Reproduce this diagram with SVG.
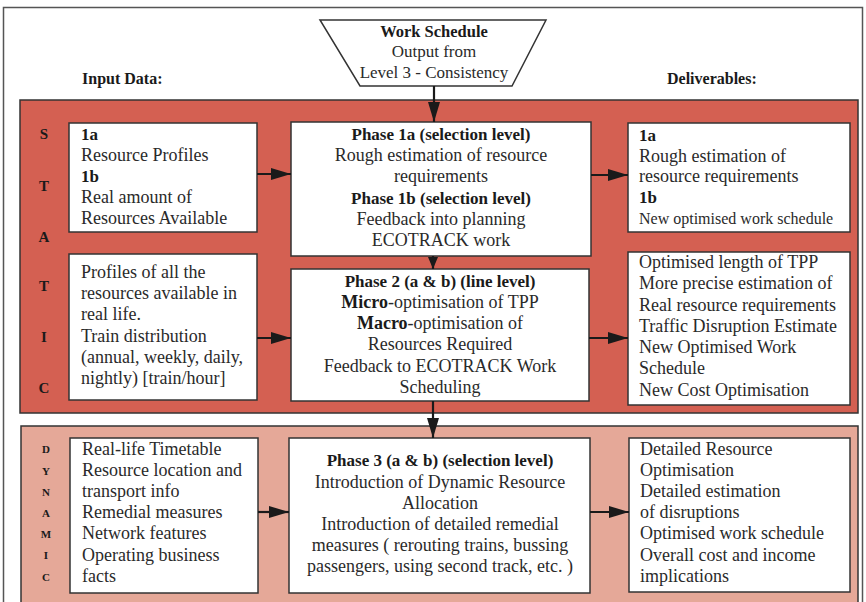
<svg xmlns="http://www.w3.org/2000/svg" width="866" height="602" viewBox="0 0 866 602">
<style>
text{font-family:"Liberation Serif","DejaVu Serif",serif;font-size:18px;fill:#2a2a2a}
.b{font-weight:bold;fill:#1a1a1a;font-size:17px}
tspan.b{font-size:18px}
.c{text-anchor:middle}
.h{font-size:17px}
.box{fill:#fff;stroke:#333;stroke-width:1.5}
.panel{stroke:#333;stroke-width:1.5}
.conn{stroke:#1a1a1a;stroke-width:2.2;fill:none}
.lt{font-weight:bold;font-size:15px;text-anchor:middle;fill:#1a1a1a}
.ld{font-weight:bold;font-size:11px;text-anchor:middle;fill:#1a1a1a}
</style>
<defs>
<marker id="ah" markerUnits="userSpaceOnUse" markerWidth="22" markerHeight="14" refX="20" refY="6" orient="auto"><path d="M0,0 L20,6 L0,12 Z" fill="#1a1a1a"/></marker>
<marker id="ahs" markerUnits="userSpaceOnUse" markerWidth="14" markerHeight="12" refX="12" refY="5" orient="auto"><path d="M0,0 L12,5 L0,10 Z" fill="#1a1a1a"/></marker>
</defs>
<rect x="0" y="0" width="866" height="602" fill="#fff"/>
<rect x="3.5" y="7.5" width="859" height="600" fill="none" stroke="#555" stroke-width="1.5"/>

<g id="header">
<polygon points="320,20 546,20 512,86 360,86" fill="#fff" stroke="#333" stroke-width="1.5"/>
<text x="434" y="37" class="b c" style="font-size:16.5px">Work Schedule</text>
<text x="434" y="57" class="c h">Output from</text>
<text x="434" y="78" class="c h">Level 3 - Consistency</text>
<text x="82" y="84" class="b" style="font-size:16px">Input Data:</text>
<text x="667" y="84" class="b" style="font-size:16px">Deliverables:</text>
</g>

<g id="static-panel">
<rect x="20" y="100" width="838" height="313" fill="#D46052" class="panel"/>
<text x="44" y="139" class="lt">S</text>
<text x="44" y="191" class="lt">T</text>
<text x="44" y="242" class="lt">A</text>
<text x="44" y="291" class="lt">T</text>
<text x="44" y="342" class="lt">I</text>
<text x="44" y="393" class="lt">C</text>
</g>

<g id="dynamic-panel">
<rect x="21" y="426" width="837" height="180" fill="#E5A898" class="panel"/>
<text x="46" y="453" class="ld">D</text>
<text x="46" y="475" class="ld">Y</text>
<text x="46" y="496" class="ld">N</text>
<text x="46" y="517" class="ld">A</text>
<text x="46" y="538" class="ld">M</text>
<text x="46" y="559" class="ld">I</text>
<text x="46" y="581" class="ld">C</text>
</g>

<g id="input-1">
<rect x="69" y="123" width="188" height="109" class="box"/>
<text x="81" y="140" class="b">1a</text>
<text x="81" y="161">Resource Profiles</text>
<text x="81" y="182" class="b">1b</text>
<text x="81" y="203">Real amount of</text>
<text x="81" y="224">Resources Available</text>
</g>

<g id="input-2">
<rect x="69" y="254" width="188" height="146" class="box"/>
<text x="81" y="278">Profiles of all the</text>
<text x="81" y="299">resources available in</text>
<text x="81" y="320">real life.</text>
<text x="81" y="342">Train distribution</text>
<text x="81" y="363">(annual, weekly, daily,</text>
<text x="81" y="384">nightly) [train/hour]</text>
</g>

<g id="phase-1">
<rect x="291" y="122" width="300" height="134" class="box"/>
<text x="441" y="140" class="b c">Phase 1a (selection level)</text>
<text x="441" y="161" class="c">Rough estimation of resource</text>
<text x="441" y="182" class="c">requirements</text>
<text x="441" y="204" class="b c">Phase 1b (selection level)</text>
<text x="441" y="225" class="c">Feedback into planning</text>
<text x="441" y="246" class="c">ECOTRACK work</text>
</g>

<g id="phase-2">
<rect x="291" y="269" width="298" height="132" class="box"/>
<text x="440" y="287" class="b c">Phase 2 (a &amp; b) (line level)</text>
<text x="440" y="308" class="c"><tspan class="b">Micro</tspan>-optimisation of TPP</text>
<text x="440" y="329" class="c"><tspan class="b">Macro</tspan>-optimisation of</text>
<text x="440" y="350" class="c">Resources Required</text>
<text x="440" y="372" class="c">Feedback to ECOTRACK Work</text>
<text x="440" y="393" class="c">Scheduling</text>
</g>

<g id="deliverable-1">
<rect x="628" y="123" width="222" height="109" class="box"/>
<text x="639" y="141" class="b">1a</text>
<text x="639" y="162">Rough estimation of</text>
<text x="639" y="182">resource requirements</text>
<text x="639" y="203" class="b">1b</text>
<text x="639" y="224" style="font-size:16px">New optimised work schedule</text>
</g>

<g id="deliverable-2">
<rect x="628" y="252" width="222" height="153" class="box"/>
<text x="639" y="268">Optimised length of TPP</text>
<text x="639" y="289">More precise estimation of</text>
<text x="639" y="311">Real resource requirements</text>
<text x="639" y="332">Traffic Disruption Estimate</text>
<text x="639" y="353">New Optimised Work</text>
<text x="639" y="374">Schedule</text>
<text x="639" y="396">New Cost Optimisation</text>
</g>

<g id="input-3">
<rect x="70" y="438" width="188" height="155" class="box"/>
<text x="82" y="455">Real-life Timetable</text>
<text x="82" y="476">Resource location and</text>
<text x="82" y="497">transport info</text>
<text x="82" y="518">Remedial measures</text>
<text x="82" y="539">Network features</text>
<text x="82" y="561">Operating business</text>
<text x="82" y="582">facts</text>
</g>

<g id="phase-3">
<rect x="289" y="438" width="301" height="155" class="box"/>
<text x="440" y="466" class="b c">Phase 3 (a &amp; b) (selection level)</text>
<text x="440" y="488" class="c">Introduction of Dynamic Resource</text>
<text x="440" y="509" class="c">Allocation</text>
<text x="440" y="530" class="c">Introduction of detailed remedial</text>
<text x="440" y="551" class="c">measures ( rerouting trains, bussing</text>
<text x="440" y="572" class="c">passengers, using second track, etc. )</text>
</g>

<g id="deliverable-3">
<rect x="629" y="438" width="221" height="154" class="box"/>
<text x="640" y="455">Detailed Resource</text>
<text x="640" y="476">Optimisation</text>
<text x="640" y="497">Detailed estimation</text>
<text x="640" y="518">of disruptions</text>
<text x="640" y="539">Optimised work schedule</text>
<text x="640" y="561">Overall cost and income</text>
<text x="640" y="582">implications</text>
</g>

<g id="connectors">
<line x1="434" y1="86" x2="434" y2="122" class="conn" marker-end="url(#ah)"/>
<line x1="433" y1="256" x2="433" y2="269" class="conn" marker-end="url(#ahs)"/>
<line x1="433" y1="401" x2="433" y2="438" class="conn" marker-end="url(#ah)"/>
<line x1="257" y1="174" x2="291" y2="174" class="conn" marker-end="url(#ah)"/>
<line x1="257" y1="338" x2="291" y2="338" class="conn" marker-end="url(#ah)"/>
<line x1="591" y1="175" x2="628" y2="175" class="conn" marker-end="url(#ah)"/>
<line x1="589" y1="338" x2="628" y2="338" class="conn" marker-end="url(#ah)"/>
<line x1="258" y1="512" x2="289" y2="512" class="conn" marker-end="url(#ah)"/>
<line x1="590" y1="512" x2="629" y2="512" class="conn" marker-end="url(#ah)"/>
</g>
</svg>
